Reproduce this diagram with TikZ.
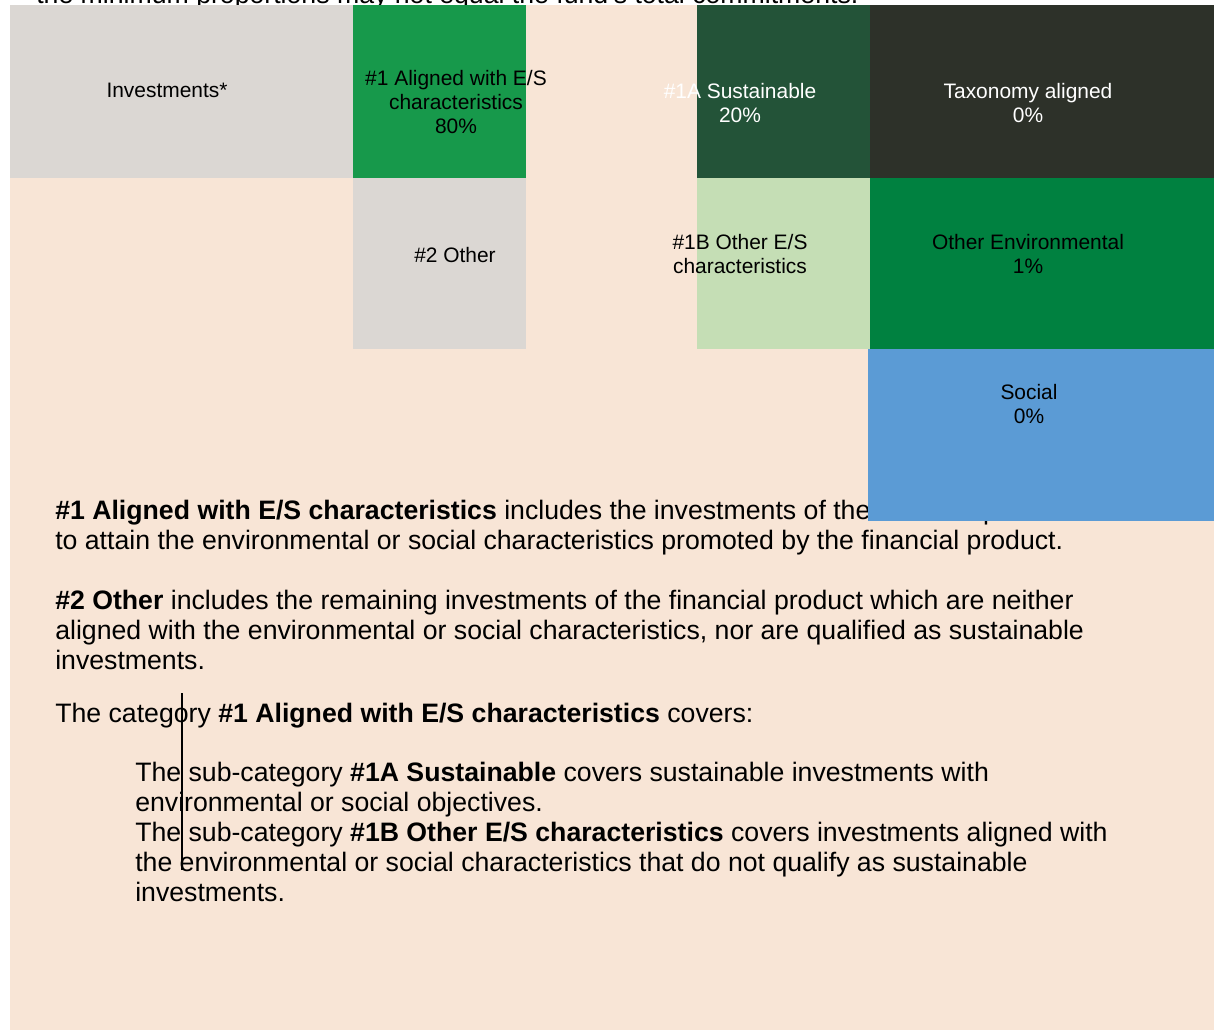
\documentclass[tikz,border=0pt]{standalone}
\usepackage{fontspec}
\setmainfont{Liberation Sans}

\definecolor{peach}{RGB}{248,229,214}
\definecolor{greybox}{RGB}{219,215,211}
\definecolor{esgreen}{RGB}{23,153,75}
\definecolor{susgreen}{RGB}{35,83,56}
\definecolor{taxdark}{RGB}{45,49,41}
\definecolor{lightgreen}{RGB}{197,222,181}
\definecolor{envgreen}{RGB}{0,129,64}
\definecolor{socialblue}{RGB}{91,155,213}

\begin{document}
\begin{tikzpicture}[x=0.75pt, y=-0.75pt,
  boxtext/.style={align=center, inner sep=0pt, font=\fontsize{15.7}{18}\selectfont},
  bodytext/.style={align=left, anchor=north west, inner sep=0pt, font=\fontsize{20}{22.5}\selectfont}]
  \useasboundingbox (0,0) rectangle (1218,1030);
  \fill[peach] (10,5) rectangle (1214,1030);

  % cut-off line above the chart
  \node[bodytext] (topnote) at (36,-16) {the minimum proportions may not equal the fund's total commitments.};

  % asset allocation boxes
  \fill[greybox] (10,5) rectangle (353,178);
  \fill[esgreen] (353,5) rectangle (526,178);
  \fill[greybox] (353,178) rectangle (526,349);
  \fill[susgreen] (697,5) rectangle (870,178);
  \fill[taxdark] (870,5) rectangle (1214,178);
  \fill[lightgreen] (697,178) rectangle (870,349);
  \fill[envgreen] (870,178) rectangle (1214,349);

  \node[boxtext] (invest) at (167,90) {Investments*};
  \node[boxtext] (aligned) at (456,102) {\#1 Aligned with E/S\\characteristics\\80\%};
  \node[boxtext] (other) at (455,255) {\#2 Other};
  \node[boxtext, white] (sustain) at (740,103) {\#1A Sustainable\\20\%};
  \node[boxtext, white] (taxo) at (1028,103) {Taxonomy aligned\\0\%};
  \node[boxtext] (otheres) at (740,254) {\#1B Other E/S\\characteristics};
  \node[boxtext] (otherenv) at (1028,254) {Other Environmental\\1\%};

  % explanations
  \node[bodytext] (def1) at (55,500) {\textbf{\#1 Aligned with E/S characteristics} includes the investments of the financial product used\\to attain the environmental or social characteristics promoted by the financial product.};
  \node[bodytext] (def2) at (55,590) {\textbf{\#2 Other} includes the remaining investments of the financial product which are neither\\aligned with the environmental or social characteristics, nor are qualified as sustainable\\investments.};
  \node[bodytext] (cover) at (55,703) {The category \textbf{\#1 Aligned with E/S characteristics} covers:};
  \node[bodytext] (subcat) at (135,762) {The sub-category \textbf{\#1A Sustainable} covers sustainable investments with\\environmental or social objectives.\\The sub-category \textbf{\#1B Other E/S characteristics} covers investments aligned with\\the environmental or social characteristics that do not qualify as sustainable\\investments.};
  \draw[line width=1pt] (182,693) -- (182,870);

  \fill[socialblue] (868,349) rectangle (1214,521);
  \node[boxtext] (social) at (1029,404) {Social\\0\%};
\end{tikzpicture}
\end{document}
